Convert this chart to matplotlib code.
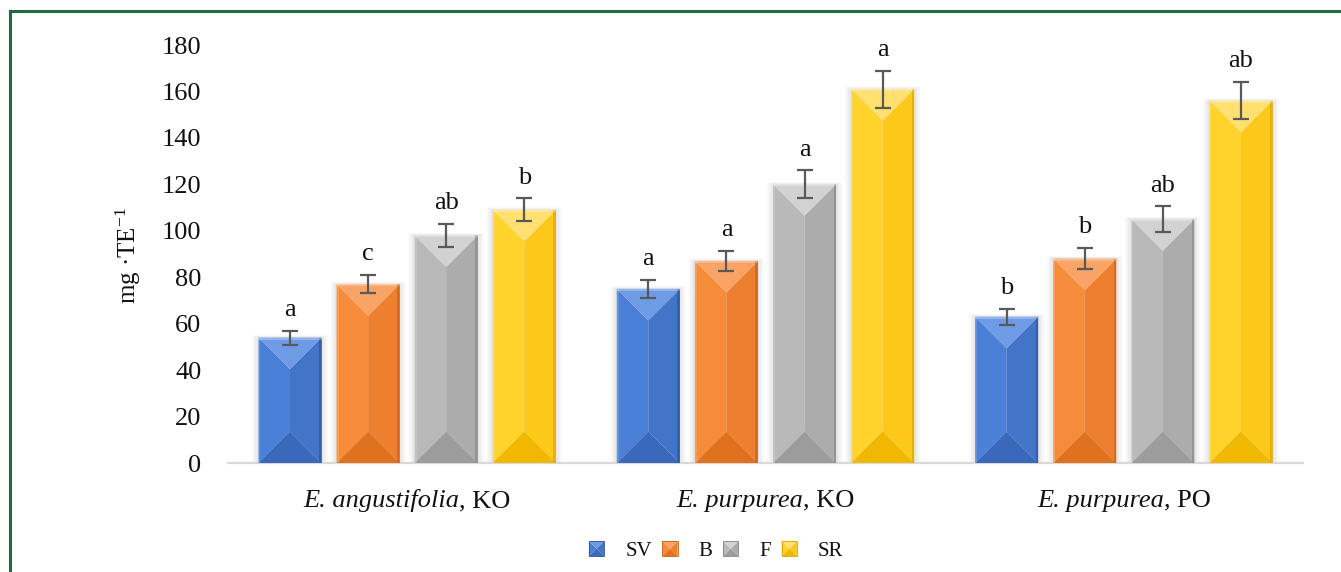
import matplotlib
matplotlib.use("Agg")
import matplotlib.pyplot as plt
from matplotlib.patches import Polygon, Rectangle
from matplotlib.legend_handler import HandlerPatch
from matplotlib.offsetbox import TextArea, HPacker, AnnotationBbox
import numpy as np

plt.rcParams.update({
    "font.family": ["Liberation Serif", "DejaVu Serif"],
    "mathtext.fontset": "custom",
    "mathtext.rm": "Liberation Serif",
    "mathtext.it": "Liberation Serif:italic",
})

# ---- data ----
species = ["E. angustifolia", "E. purpurea", "E. purpurea"]
origins = [", KO", ", KO", ", PO"]
series = ["SV", "B", "F", "SR"]
sv = [54, 75, 63]
b = [77, 87, 88]
f = [98, 120, 105]
sr = [109, 161, 156]
sv_err = [3, 4, 3.5]
b_err = [4, 4.5, 4.5]
f_err = [5, 6, 5.5]
sr_err = [5, 8, 8]
sv_sig = ["a", "a", "b"]
b_sig = ["c", "a", "b"]
f_sig = ["ab", "a", "ab"]
sr_sig = ["b", "a", "ab"]
yticks = [0, 20, 40, 60, 80, 100, 120, 140, 160, 180]

values = [sv, b, f, sr]
errors = [sv_err, b_err, f_err, sr_err]
letters = [sv_sig, b_sig, f_sig, sr_sig]

# colours per series: (left face, right face, top bevel, bottom bevel, edge)
palette = [
    ("#4b80d8", "#4274c8", "#6e9ae6", "#3a68bb", "#2c5190"),
    ("#f68b3a", "#ee7f2e", "#f9a466", "#e0711f", "#c25e1a"),
    ("#b9b9b9", "#acacac", "#d2d2d2", "#9c9c9c", "#858585"),
    ("#ffd22c", "#fcc81a", "#ffe070", "#f0b800", "#d9a300"),
]

fig = plt.figure(figsize=(13.41, 5.72), dpi=100)
ax = fig.add_axes([228 / 1341, 109 / 572, (1303 - 228) / 1341, (463 - 45) / 572])
ax.set_xlim(-0.5, 2.5)
ax.set_ylim(0, 180)

x = np.arange(len(species))
step = 0.218
width = 0.176
offsets = (np.arange(len(series)) - 1.5) * step

# pixel scales for the bevel geometry
p0 = ax.transData.transform((0, 0))
p1 = ax.transData.transform((1, 1))
px_x = p1[0] - p0[0]
px_y = p1[1] - p0[1]


def bevel(ax, x0, w, h, cols, z=3):
    left, right, top, bottom, edge = cols
    x1 = x0 + w
    xm = x0 + w / 2
    d = (w * px_x / 2) / px_y
    # soft outer shadow, mostly to the sides
    for k in range(4):
        ex = (k + 1) * 1.5 / px_x
        ey = (k + 1) * 0.6 / px_y
        ax.add_patch(Rectangle((x0 - ex, 0), w + 2 * ex, h + ey,
                               facecolor="black", alpha=0.025, lw=0, zorder=z - 1))
    ax.add_patch(Polygon([(x0, 0), (xm, d), (xm, h - d), (x0, h)],
                         closed=True, facecolor=left, lw=0, zorder=z))
    ax.add_patch(Polygon([(x1, 0), (xm, d), (xm, h - d), (x1, h)],
                         closed=True, facecolor=right, lw=0, zorder=z))
    ax.add_patch(Polygon([(x0, h), (x1, h), (xm, h - d)],
                         closed=True, facecolor=top, lw=0, zorder=z))
    ax.add_patch(Polygon([(x0, 0), (x1, 0), (xm, d)],
                         closed=True, facecolor=bottom, lw=0, zorder=z))
    # thin darker rim on the right, light rim on the left and top
    rim = 2.5 / px_x
    ax.add_patch(Rectangle((x1 - rim, 0), rim, h, facecolor=edge, alpha=0.6,
                           lw=0, zorder=z + 0.1))
    ax.add_patch(Rectangle((x0, 0), rim * 0.8, h, facecolor="white", alpha=0.15,
                           lw=0, zorder=z + 0.1))
    ax.add_patch(Rectangle((x0, h - 2.0 / px_y), w, 2.0 / px_y, facecolor="white",
                           alpha=0.25, lw=0, zorder=z + 0.1))


for i, (vals, errs, sig, cols) in enumerate(zip(values, errors, letters, palette)):
    pos = x + offsets[i]
    bars = ax.bar(pos, vals, width=width, color="none", lw=0, label=series[i])
    for rect in bars:
        bevel(ax, rect.get_x(), rect.get_width(), rect.get_height(), cols)
    ax.errorbar(pos, vals, yerr=errs, fmt="none", ecolor="#595959",
                elinewidth=1.6, capsize=6, capthick=1.6, zorder=6)
    for xp, v, e, s in zip(pos, vals, errs, sig):
        ax.annotate(s, (xp, v + e), xytext=(0, 7), textcoords="offset points",
                    ha="center", va="bottom", fontsize=19, color="#111111")

# axes styling
for side in ["left", "top", "right"]:
    ax.spines[side].set_visible(False)
ax.spines["bottom"].set_color("#d9d9d9")
ax.spines["bottom"].set_linewidth(1.6)
ax.spines["bottom"].set_zorder(2)
ax.set_yticks(yticks)
ax.set_yticklabels([str(t) for t in yticks])
ax.tick_params(axis="y", length=0, pad=19, labelsize=19, labelcolor="#111111")
ax.set_xticks(x)
ax.set_xticklabels([])
ax.tick_params(axis="x", length=0)

# category labels: italic species name followed by upright origin code
for xi, sp, og in zip(x, species, origins):
    box = HPacker(children=[
        TextArea(sp, textprops=dict(fontsize=19, style="italic", color="#111111")),
        TextArea(og, textprops=dict(fontsize=19, color="#111111")),
    ], align="baseline", pad=0, sep=0)
    ab = AnnotationBbox(box, (xi, 0), xycoords=("data", "axes fraction"),
                        xybox=(0, -27), boxcoords="offset points",
                        box_alignment=(0.5, 0.5), frameon=False,
                        annotation_clip=False)
    ax.add_artist(ab)

fig.text(128 / 1341, 1 - 256 / 572, "mg ·TE$^{-1}$", rotation=90,
         ha="center", va="center", fontsize=18, color="#111111")


# legend with small bevelled squares
class BevelHandler(HandlerPatch):
    def __init__(self, cols):
        super().__init__()
        self.cols = cols

    def create_artists(self, legend, orig_handle, xdescent, ydescent,
                       width, height, fontsize, trans):
        left, right, top, bottom, edge = self.cols
        s = min(width, height)
        x0 = -xdescent + (width - s) / 2
        y0 = -ydescent + (height - s) / 2
        x1, y1, xm, ym = x0 + s, y0 + s, x0 + s / 2, y0 + s / 2
        arts = [
            Polygon([(x0, y0), (xm, ym), (x0, y1)], facecolor=left, lw=0),
            Polygon([(x1, y0), (xm, ym), (x1, y1)], facecolor=right, lw=0),
            Polygon([(x0, y1), (x1, y1), (xm, ym)], facecolor=top, lw=0),
            Polygon([(x0, y0), (x1, y0), (xm, ym)], facecolor=bottom, lw=0),
            Rectangle((x0, y0), s, s, facecolor="none", edgecolor=edge, lw=0.6),
        ]
        for a in arts:
            a.set_transform(trans)
        return arts


handles, labels = ax.get_legend_handles_labels()
hmap = {h: BevelHandler(c) for h, c in zip(handles, palette)}
fig.legend(handles, labels, handler_map=hmap, loc="center",
           bbox_to_anchor=(716 / 1341, 1 - 551 / 572), ncol=4, frameon=False,
           fontsize=15, handlelength=0.75, handleheight=0.75,
           handletextpad=1.0, columnspacing=0.5, labelcolor="#111111")

# outer green frame (runs off the bottom and right of the canvas)
fig.add_artist(Rectangle((9.5 / 1341, -0.1), 1.2, 1.1 - 11.5 / 572,
                         transform=fig.transFigure, facecolor="none",
                         edgecolor="#1d6b3f", lw=2.2, clip_on=False))

fig.savefig("out.png", dpi=100)
